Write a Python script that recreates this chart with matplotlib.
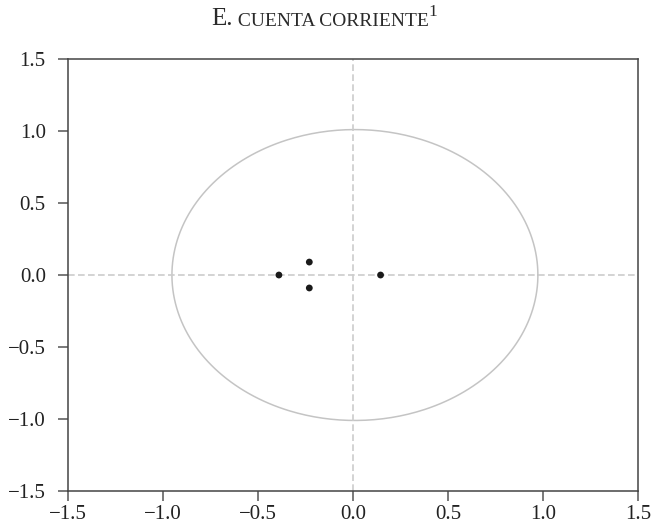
import numpy as np
import matplotlib
matplotlib.use("Agg")
import matplotlib.pyplot as plt

# Inverse roots
root_re = [-0.39, -0.23, -0.23, 0.145]
root_im = [0.0, 0.09, -0.09, 0.0]
ticks = [-1.5, -1.0, -0.5, 0.0, 0.5, 1.0, 1.5]
tick_labels = ["\u22121.5", "\u22121.0", "\u22120.5", "0.0", "0.5", "1.0", "1.5"]
circle_rx, circle_ry = 0.963, 1.01

plt.rcParams['font.family'] = ['Liberation Serif', 'DejaVu Serif']

fig = plt.figure(figsize=(6.57, 5.26), dpi=100)
ax = fig.add_axes([0.1035, 0.0665, 0.8676, 0.8213])

theta = np.linspace(0, 2*np.pi, 400)
ax.plot(0.01 + circle_rx*np.cos(theta), circle_ry*np.sin(theta), color="#c4c4c4", lw=1.1, zorder=1)
ax.axhline(0, color="#cccccc", lw=1.2, ls=(0, (4, 2)), zorder=1)
ax.axvline(0, color="#cccccc", lw=1.2, ls=(0, (4, 2)), zorder=1)
ax.scatter(root_re, root_im, s=24, color="#1a1a1a", zorder=3, edgecolors="none")

ax.set_xlim(-1.5, 1.5)
ax.set_ylim(-1.5, 1.5)
ax.set_xticks(ticks)
ax.set_xticklabels(tick_labels)
ax.set_yticks(ticks)
ax.set_yticklabels(tick_labels)
for s in ax.spines.values():
    s.set_color("#444444")
    s.set_linewidth(1.1)
ax.tick_params(direction="out", length=7, width=1.1, color="#555555",
               labelsize=15, labelcolor="#222222")
ax.tick_params(axis="y", pad=9)
ax.tick_params(axis="x", pad=3)

# Title with simulated small caps
t1 = fig.text(0.322, 0.952, "E.", fontsize=18, color="#2a2a2a", ha="left", va="baseline")
t2 = ax.annotate(" CUENTA CORRIENTE", xy=(1, 0), xycoords=t1, fontsize=14,
                 color="#2a2a2a", ha="left", va="bottom", annotation_clip=False)
t3 = ax.annotate("1", xy=(1.0, 0.6), xycoords=t2, fontsize=12.5, color="#2a2a2a",
                 ha="left", va="bottom", annotation_clip=False)

fig.savefig("out.png", dpi=100)
